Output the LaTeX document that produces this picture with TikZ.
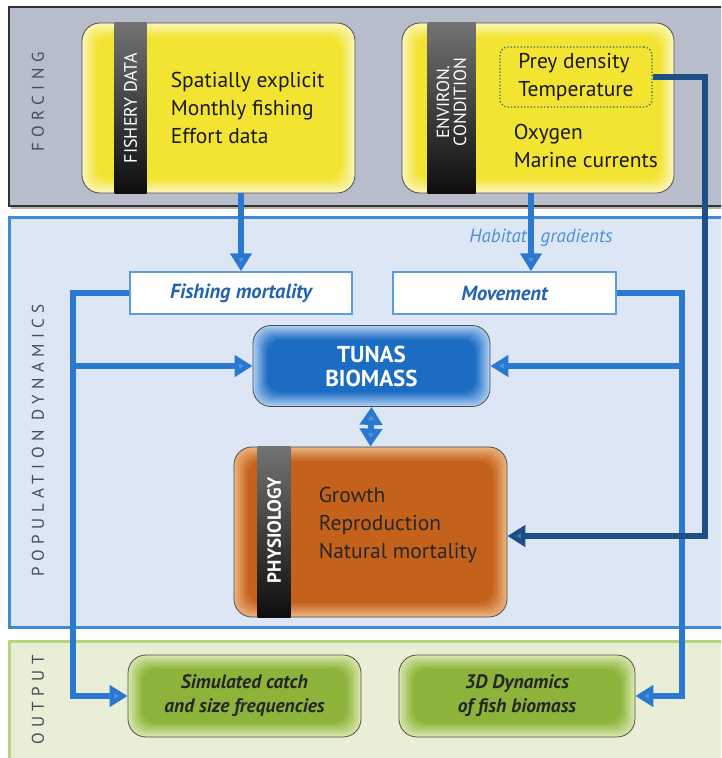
\documentclass[tikz,border=0pt]{standalone}
\usepackage{fontspec}
\setmainfont{PT Sans}
\newfontfamily\spacedfont[LetterSpace=32]{PT Sans}
\usetikzlibrary{arrows.meta,calc}

\definecolor{forcinggray}{HTML}{B8BDCB}
\definecolor{popblue}{HTML}{DCE6F5}
\definecolor{popedge}{HTML}{3C8AD9}
\definecolor{outgreen}{HTML}{E8EFD6}
\definecolor{outedge}{HTML}{B9D37C}
\definecolor{sidegray}{HTML}{4A4C58}
\definecolor{yellowmain}{HTML}{F3E432}
\definecolor{yellowedge}{HTML}{FBF5B8}
\definecolor{tunamain}{HTML}{1D6CC4}
\definecolor{tunaedge}{HTML}{A9CCF0}
\definecolor{physmain}{HTML}{C4621C}
\definecolor{physedge}{HTML}{EBB27C}
\definecolor{greenmain}{HTML}{8CB43A}
\definecolor{greenedge}{HTML}{D8E8AC}
\definecolor{flowblue}{HTML}{2A78D0}
\definecolor{headblue}{HTML}{4F93E0}
\definecolor{darkflow}{HTML}{1D4E86}
\definecolor{labelblue}{HTML}{2463B0}
\definecolor{habblue}{HTML}{4D8FD6}
\definecolor{dotteal}{HTML}{2E6B78}

\tikzset{
  glowbox/.style n args={2}{rounded corners=18pt, draw=black!70, line width=0.8pt, fill=#1, inner sep=0pt,
    path picture={
      \foreach \k/\m in {2/85,4/70,6/55,8/40,10/25,12/12,14/0}
        \fill[#1!\m!#2, rounded corners=14pt] ($(path picture bounding box.south west)+(\k,-\k)$) rectangle ($(path picture bounding box.north east)+(-\k,\k)$);
    }},
  sidelabel/.style={rotate=90, text=sidegray, font=\spacedfont\fontsize{17}{17}\selectfont},
  stripelabel/.style={rotate=90, text=white, align=center, inner sep=0pt},
  stripe/.style={top color=black!55, bottom color=black!95},
  bodytext/.style={anchor=west, align=left, inner sep=0pt, text=black!90, font=\fontsize{21.5}{28}\selectfont},
  whitebox/.style={draw=popedge!85, line width=1.5pt, fill=white, minimum height=42, inner sep=0pt, text=labelblue, font=\fontsize{20.5}{22}\selectfont\bfseries\itshape},
  flow/.style={draw=flowblue, line width=6pt, -{Triangle[width=21pt,length=18pt,fill=headblue]}},
  darkflowline/.style={draw=darkflow, line width=6pt, -{Triangle[width=21pt,length=18pt,fill=darkflow!80!white]}}
}

\begin{document}
\begin{tikzpicture}[x=1pt,y=-1pt]
  \useasboundingbox (0,0) rectangle (721,758);
  \clip (0,0) rectangle (721,758);
  \fill[white] (0,0) rectangle (721,758);

  % panels
  \fill[black!30] (11,9) rectangle (730,209);
  \filldraw[fill=forcinggray, draw=black!80, line width=1.8pt] (9,7) rectangle (730,206);
  \filldraw[fill=popblue, draw=popedge, line width=3pt] (9,217) rectangle (730,627);
  \filldraw[fill=outgreen, draw=outedge, line width=3pt] (9,641) rectangle (730,775);

  \node[sidelabel] (forcinglbl) at (38,102) {FORCING};
  \node[sidelabel] (poplbl) at (38,440) {POPULATION DYNAMICS};
  \node[sidelabel] (outlbl) at (38,700) {OUTPUT};

  % forcing boxes
  \node[glowbox={yellowedge}{yellowmain}, minimum width=273, minimum height=170] (fishery) at (218.5,108) {};
  \shade[stripe] ($(fishery.north west)+(33,0)$) rectangle ($(fishery.south west)+(65,0)$);
  \node[stripelabel, font=\fontsize{18}{18}\selectfont] (fisherylbl) at ($(fishery.west)+(49,0)$) {FISHERY DATA};
  \node[bodytext] (fisherytxt) at ($(fishery.west)+(89,0)$) {Spatially explicit\\Monthly fishing\\Effort data};

  \node[glowbox={yellowedge}{yellowmain}, minimum width=272, minimum height=170] (environ) at (538,108) {};
  \shade[stripe] ($(environ.north west)+(26,0)$) rectangle ($(environ.south west)+(74,0)$);
  \node[stripelabel, font=\fontsize{17.5}{17}\selectfont] (environlbl) at ($(environ.west)+(50,-6)$) {ENVIRON.\\CONDITION};
  \node[draw=dotteal, dotted, line width=1.3pt, rounded corners=8pt, minimum width=152, minimum height=60, inner sep=0pt, align=left, text=black!90, font=\fontsize{21.5}{28}\selectfont] (prey) at (576,77) {Prey density\\Temperature};
  \node[bodytext] (oxygen) at ($(environ.west)+(112,38)$) {Oxygen\\Marine currents};

  % population dynamics
  \node[whitebox, minimum width=222] (fmort) at (241,293) {Fishing mortality};
  \node[whitebox, minimum width=223] (movement) at (504.5,293) {Movement};
  \node[text=habblue, font=\fontsize{19}{20}\selectfont\itshape] (habtext) at (541,238) {Habitat\hspace{14pt}gradients};

  \node[glowbox={tunaedge}{tunamain}, minimum width=237, minimum height=81, align=center, text=white, font=\fontsize{23}{24}\selectfont\bfseries] (tunas) at (371.5,366) {TUNAS\\BIOMASS};

  \node[glowbox={physedge}{physmain}, minimum width=273, minimum height=170] (phys) at (370.5,532) {};
  \shade[stripe] ($(phys.north west)+(24,0)$) rectangle ($(phys.south west)+(57,0)$);
  \node[stripelabel, font=\fontsize{19}{19}\selectfont\bfseries] (physlbl) at ($(phys.west)+(40.5,-2)$) {PHYSIOLOGY};
  \node[bodytext, text=black!85] (phystxt) at ($(phys.west)+(85,-7)$) {Growth\\Reproduction\\Natural mortality};

  % output
  \node[glowbox={greenedge}{greenmain}, minimum width=233, minimum height=82, align=center, text=black!85, font=\fontsize{19.5}{24}\selectfont\bfseries\itshape] (catch) at (244.5,696) {Simulated catch\\and size frequencies};
  \node[glowbox={greenedge}{greenmain}, minimum width=236, minimum height=82, align=center, text=black!85, font=\fontsize{19.5}{24}\selectfont\bfseries\itshape] (dyn3d) at (517,696) {3D Dynamics\\of fish biomass};

  % connectors
  \coordinate (lbus) at (73,0);
  \coordinate (rbus) at (682,0);
  \coordinate (dbus) at (705,0);
  \coordinate (physin) at ($(phys.east)+(0,4)$);

  \draw[flow] (fmort.north |- fishery.south) -- (fmort.north);
  \draw[flow] ($(environ.south)+(-7,0)$) -- ($(movement.north)+(26.5,0)$);

  \draw[flow] (fmort.west) -- (fmort.west -| lbus) -- (lbus |- catch.west) -- (catch.west);
  \draw[flow] (lbus |- tunas.west) -- (tunas.west);
  \draw[flow] (movement.east) -- (movement.east -| rbus) -- (rbus |- dyn3d.east) -- (dyn3d.east);
  \draw[flow] (rbus |- tunas.east) -- (tunas.east);

  \draw[draw=flowblue, line width=6pt, {Triangle[width=22pt,length=18pt,fill=headblue]}-{Triangle[width=22pt,length=18pt,fill=headblue]}] (tunas.south) -- (phys.north);

  \draw[darkflowline] (prey.east) -- (prey.east -| dbus) -- (dbus |- physin) -- (physin);
\end{tikzpicture}
\end{document}
